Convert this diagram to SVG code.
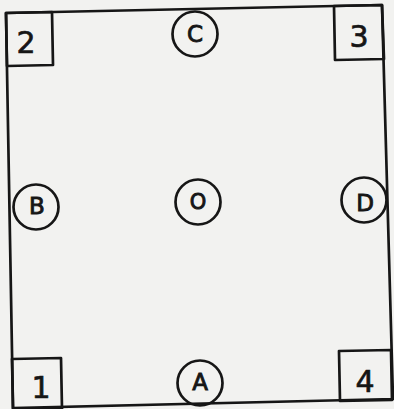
<svg xmlns="http://www.w3.org/2000/svg" width="394" height="409" viewBox="0 0 394 409">
  <style>
    .ln { fill: none; stroke: #161616; stroke-width: 2.7; stroke-linejoin: round; stroke-linecap: round; }
    .num { font-family: "DejaVu Sans", "Liberation Sans", sans-serif; font-size: 30px; fill: #161616; stroke: #161616; stroke-width: 0.7; text-anchor: middle; }
    .let { font-family: "DejaVu Sans", "Liberation Sans", sans-serif; font-size: 23px; fill: #161616; stroke: #161616; stroke-width: 0.9; text-anchor: middle; }
  </style>
  <rect x="0" y="0" width="394" height="409" fill="#f2f2f0"/>
  <g id="connectors">
    <polygon id="frame" class="ln" points="6,13 382,5 393,399 13,408"/>
  </g>
  <g id="box2">
    <polygon class="ln" points="6,13 52,12 53,65 7,66"/>
    <text class="num" x="26" y="53">2</text>
  </g>
  <g id="box3">
    <polygon class="ln" points="334,6 382,5 384,59 335,60"/>
    <text class="num" x="359" y="47">3</text>
  </g>
  <g id="box1">
    <polygon class="ln" points="12,359 61,358 62,409 13,409"/>
    <text class="num" x="41" y="398">1</text>
  </g>
  <g id="box4">
    <polygon class="ln" points="339,351 391,350 392,400 340,401"/>
    <text class="num" x="365" y="392">4</text>
  </g>
  <g id="nodeC">
    <circle class="ln" cx="195" cy="34" r="22.5"/>
    <text class="let" x="195" y="42">C</text>
  </g>
  <g id="nodeB">
    <circle class="ln" cx="36" cy="207" r="22.5"/>
    <text class="let" x="37" y="214">B</text>
  </g>
  <g id="nodeO">
    <circle class="ln" cx="198" cy="202" r="22.5"/>
    <text class="let" x="198" y="209" style="font-size:21px">O</text>
  </g>
  <g id="nodeD">
    <circle class="ln" cx="364" cy="200" r="22.5"/>
    <text class="let" x="365" y="211">D</text>
  </g>
  <g id="nodeA">
    <circle class="ln" cx="200" cy="383" r="22.5"/>
    <text class="let" x="200" y="390">A</text>
  </g>
</svg>
